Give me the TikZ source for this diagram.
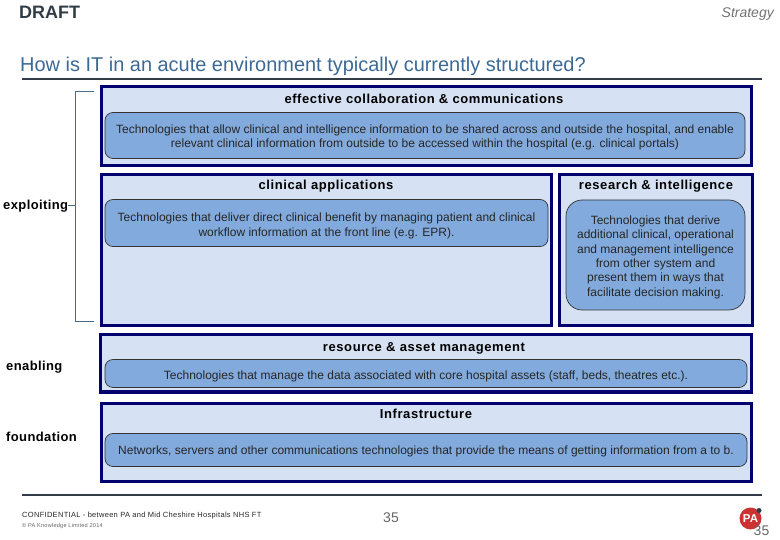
\documentclass[tikz,border=0pt]{standalone}
\usepackage{fontspec}
\setmainfont{Liberation Sans}
\newfontfamily\headfont[LetterSpace=4.5]{Liberation Sans}
\newfontfamily\sidefont[LetterSpace=3]{Liberation Sans}
\newfontfamily\footfont[LetterSpace=4]{Liberation Sans}
\usepackage{tikz}
\usetikzlibrary{calc}
\definecolor{navy}{RGB}{0,0,110}
\definecolor{panelfill}{RGB}{214,226,243}
\definecolor{techfill}{RGB}{130,170,220}
\definecolor{titleblue}{RGB}{60,105,150}
\definecolor{rulegrey}{RGB}{50,60,70}
\definecolor{bracketgrey}{RGB}{75,105,130}
\definecolor{logored}{RGB}{205,50,50}
\tikzset{
  panel/.style={draw=navy,line width=3pt,fill=panelfill,inner sep=0pt,outer sep=0pt,anchor=north west},
  tech/.style={draw=black!80,line width=0.7pt,fill=techfill,rounded corners=8pt,inner sep=0pt,outer sep=0pt,align=center,anchor=north west,text=black!85,font=\fontsize{12}{14.3}\selectfont,execute at begin node=\rule{0pt}{#1pt}},
  tech/.default=12.7,
  head/.style={font=\fontsize{13}{14}\selectfont\headfont\bfseries,text=black,inner sep=0pt},
  side/.style={font=\fontsize{13}{14}\selectfont\sidefont\bfseries,text=black,anchor=west,inner sep=0pt},
}
\begin{document}
\begin{tikzpicture}[x=1pt,y=-1pt]
	\useasboundingbox (0,0) rectangle (780,540);

	\node[anchor=west,inner sep=0pt,font=\fontsize{18}{20}\selectfont\bfseries,text=rulegrey] (draft) at (19,12.5){DRAFT};
	\node[anchor=east,inner sep=0pt,font=\fontsize{14}{16}\selectfont\itshape,text=black!55] (strategy) at (774,14){Strategy};
	\node[anchor=west,inner sep=0pt,font=\fontsize{19.95}{22}\selectfont,text=titleblue] (title) at (20,66){How is IT in an acute environment typically currently structured?};
	\coordinate (titleL) at (22,79);
	\coordinate (titleR) at (762,79);
	\draw[rulegrey,line width=1.4pt] (titleL) -- (titleR);

	% panels
	\node[panel,minimum width=650pt,minimum height=78.5pt] (collab) at (101,87){};
	\node[panel,minimum width=450pt,minimum height=151pt] (clinical) at (101,174.5){};
	\node[panel,minimum width=193pt,minimum height=151pt] (research) at (559,174.5){};
	\node[panel,minimum width=651pt,minimum height=57pt] (resource) at (100,335){};
	\node[panel,minimum width=650pt,minimum height=78pt] (infra) at (101,403){};

	% headings
	\node[head] (collabH) at (424,99){effective collaboration \& communications};
	\node[head] (clinicalH) at (326,186){clinical applications};
	\node[head] (researchH) at (656,186){research \& intelligence};
	\node[head] (resourceH) at (424,348){resource \& asset management};
	\node[head] (infraH) at (426,414){Infrastructure};

	% technologies
	\node[tech=27,minimum width=640pt,minimum height=46pt] (collabT) at (105,112.5){Technologies that allow clinical and intelligence information to be shared across and outside the hospital, and enable\\relevant clinical information from outside to be accessed within the hospital (e.g. clinical portals)};
	\node[tech=29,minimum width=443pt,minimum height=47pt] (clinicalT) at (105,199.5){Technologies that deliver direct clinical benefit by managing patient and clinical\\workflow information at the front line (e.g. EPR).};
	\node[tech=84.5,rounded corners=16pt,minimum width=179pt,minimum height=110pt] (researchT) at (566,200){Technologies that derive\\additional clinical, operational\\and management intelligence\\from other system and\\present them in ways that\\facilitate decision making.};
	\node[tech=14.7,minimum width=642pt,minimum height=28pt] (resourceT) at (105,359.5){Technologies that manage the data associated with core hospital assets (staff, beds, theatres etc.).};
	\node[tech=10.7,minimum width=642pt,minimum height=33pt] (infraT) at (105,433.5){Networks, servers and other communications technologies that provide the means of getting information from a to b.};

	% side labels
	\node[side] (exploiting) at (3,206.5){exploiting};
	\node[side] (enabling) at (6,367){enabling};
	\node[side] (foundation) at (6,437){foundation};

	\coordinate (brTop) at (94,91);
	\coordinate (brBot) at (94,321);
	\coordinate (brTick) at (75,205.5);
	\draw[bracketgrey,line width=0.8pt] (brTop) -- (75,91) -- (75,321) -- (brBot);
	\draw[bracketgrey,line width=0.8pt] (exploiting.east|-brTick) -- (brTick);

	% footer
	\coordinate (footL) at (22,495);
	\coordinate (footR) at (762,495);
	\draw[rulegrey,line width=1.4pt] (footL) -- (footR);
	\node[anchor=west,inner sep=0pt,font=\fontsize{7.5}{8}\selectfont\footfont,text=black!85] (confid) at (22,516){CONFIDENTIAL - between PA and Mid Cheshire Hospitals NHS FT};
	\node[anchor=west,inner sep=0pt,font=\fontsize{5.6}{6}\selectfont\footfont,text=black!60] (copy) at (22,526){© PA Knowledge Limited 2014};
	\node[font=\fontsize{14}{16}\selectfont,text=black!60,inner sep=0pt] (pagemid) at (391,518){35};

	% logo
	\node[circle,fill=logored,minimum size=22pt,inner sep=0pt,text=white,font=\fontsize{11.5}{13}\selectfont\bfseries] (logo) at (750.5,518.5){PA};
	\node[circle,fill=rulegrey,minimum size=5pt,inner sep=0pt] (logodot) at (759,510.5){};
	\node[font=\fontsize{14}{16}\selectfont,text=black!60,inner sep=0pt] (pageno) at (761.5,531){35};
\end{tikzpicture}
\end{document}
